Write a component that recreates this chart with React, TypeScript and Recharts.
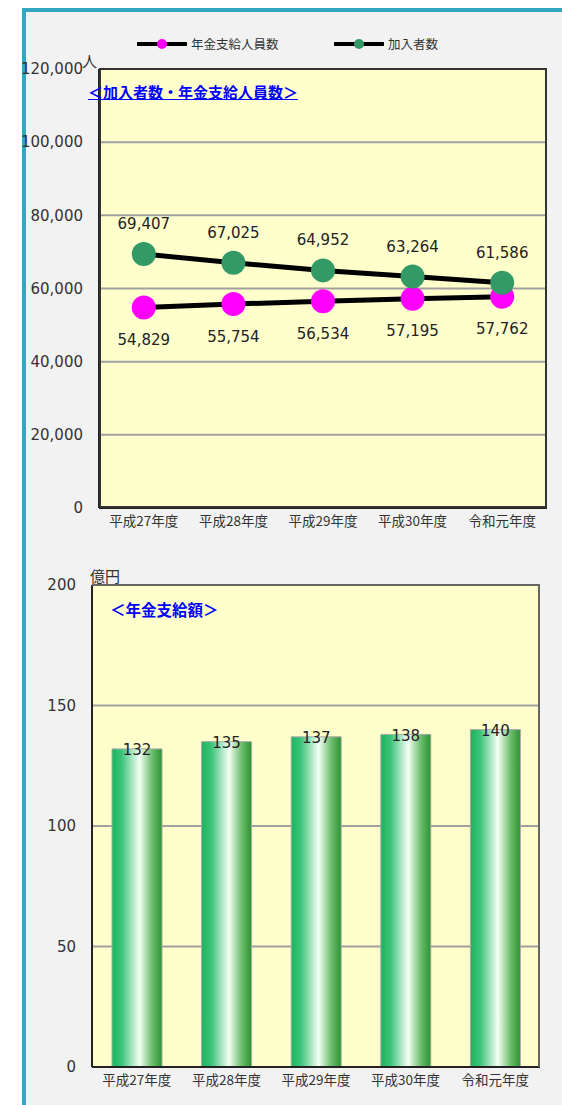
import React from 'react';
import { LineChart, Line, BarChart, Bar, XAxis, YAxis, CartesianGrid, LabelList } from 'recharts';

const years = ['平成27年度', '平成28年度', '平成29年度', '平成30年度', '令和元年度'];
const pensioners = [54829, 55754, 56534, 57195, 57762];
const members = [69407, 67025, 64952, 63264, 61586];
const payments = [132, 135, 137, 138, 140];
const peopleTicks = [0, 20000, 40000, 60000, 80000, 100000, 120000];
const amountTicks = [0, 50, 100, 150, 200];

const PINK = '#ff00ff';
const GREEN = '#339966';
const NUM_FONT = '"DejaVu Sans", sans-serif';
const JP_FONT = '"Noto Sans CJK JP", sans-serif';

const lineData = years.map((y, i) => ({ year: y, pensioners: pensioners[i], members: members[i] }));
const barData = years.map((y, i) => ({ year: y, amount: payments[i] }));

const fmt = (v: number) => String(v).replace(/\B(?=(\d{3})+(?!\d))/g, ',');

const numTick = { fill: '#333', fontSize: 15, fontFamily: NUM_FONT };
const catTick = { fill: '#333', fontSize: 13.5, fontFamily: JP_FONT };

const BarValue = (props: any) => {
  const { x, y, width, value } = props;
  return (
    <text x={x + width / 2} y={y + 2} textAnchor="middle" dominantBaseline="middle"
      fill="#222" fontSize={15} fontFamily={NUM_FONT}>
      {value}
    </text>
  );
};

const LegendItem = ({ color, label, left }: { color: string; label: string; left: number }) => (
  <div style={{ position: 'absolute', left, top: 36, display: 'flex', alignItems: 'center', height: 16 }}>
    <svg width={50} height={16}>
      <line x1={1} y1={8} x2={49} y2={8} stroke="#000" strokeWidth={4} strokeLinecap="round" />
      <circle cx={25} cy={8} r={5} fill={color} />
    </svg>
    <span style={{ marginLeft: 4, fontSize: 12.5, color: '#333', fontFamily: JP_FONT, lineHeight: '16px' }}>{label}</span>
  </div>
);

export default function App() {
  return (
    <div style={{ position: 'absolute', left: 0, top: 0, width: 562, height: 1105, background: '#fff', overflow: 'hidden' }}>
      <div style={{
        position: 'absolute', left: 22, top: 8, width: 540, height: 1097, boxSizing: 'border-box',
        borderLeft: '4px solid #33a6c2', borderTop: '4px solid #33a6c2', background: '#f2f2f2',
      }} />

      <LegendItem color={PINK} label="年金支給人員数" left={137} />
      <LegendItem color={GREEN} label="加入者数" left={334} />

      <div style={{ position: 'absolute', left: 0, top: 0 }}>
        <LineChart width={562} height={545} data={lineData} margin={{ top: 69, right: 15, left: 0, bottom: 7 }}>
          <CartesianGrid vertical={false} fill="#ffffcc" stroke="#a0a0a0" strokeWidth={2} />
          <XAxis dataKey="year" height={30} tickLine={false} padding={{ left: 44.8, right: 44.8 }}
            axisLine={{ stroke: '#222', strokeWidth: 2 }} tick={catTick} />
          <YAxis width={99} domain={[0, 120000]} ticks={peopleTicks} tickFormatter={fmt} tickLine={false}
            tickMargin={10} axisLine={{ stroke: '#222', strokeWidth: 2 }} tick={numTick} />
          <Line dataKey="pensioners" stroke="#000" strokeWidth={5} isAnimationActive={false}
            dot={{ r: 12, fill: PINK, stroke: 'none', strokeWidth: 0 }}>
            <LabelList dataKey="pensioners" position="bottom" offset={27} formatter={fmt}
              fill="#222" fontSize={15} fontFamily={NUM_FONT} />
          </Line>
          <Line dataKey="members" stroke="#000" strokeWidth={5} isAnimationActive={false}
            dot={{ r: 12, fill: GREEN, stroke: 'none', strokeWidth: 0 }}>
            <LabelList dataKey="members" position="top" offset={25} formatter={fmt}
              fill="#222" fontSize={15} fontFamily={NUM_FONT} />
          </Line>
        </LineChart>
      </div>
      <div style={{ position: 'absolute', left: 99, top: 68, width: 448, height: 440, boxSizing: 'border-box', border: '2px solid #333', pointerEvents: 'none' }} />
      <div style={{ position: 'absolute', left: 82, top: 50, fontSize: 15, color: '#333', fontFamily: JP_FONT }}>人</div>
      <div style={{
        position: 'absolute', left: 88, top: 81, fontSize: 15, fontWeight: 'bold', color: '#0000ff',
        fontFamily: JP_FONT, textDecoration: 'underline', lineHeight: '22px', whiteSpace: 'nowrap',
      }}>＜加入者数・年金支給人員数＞</div>

      <div style={{ position: 'absolute', left: 0, top: 560 }}>
        <BarChart width={562} height={545} data={barData} margin={{ top: 25, right: 22, left: 0, bottom: 8 }}>
          <defs>
            <linearGradient id="barGrad" x1="0" y1="0" x2="1" y2="0">
              <stop offset="0%" stopColor="#19b55c" />
              <stop offset="20%" stopColor="#3fc47c" />
              <stop offset="55%" stopColor="#f4fff4" />
              <stop offset="80%" stopColor="#6dbd6d" />
              <stop offset="100%" stopColor="#2a9430" />
            </linearGradient>
          </defs>
          <CartesianGrid vertical={false} fill="#ffffcc" stroke="#a0a0a0" strokeWidth={2} />
          <XAxis dataKey="year" height={30} tickLine={false} axisLine={{ stroke: '#222', strokeWidth: 2 }} tick={catTick} />
          <YAxis width={92} domain={[0, 200]} ticks={amountTicks} tickLine={false} tickMargin={10}
            axisLine={{ stroke: '#222', strokeWidth: 2 }} tick={numTick} />
          <Bar dataKey="amount" barSize={50} fill="url(#barGrad)" stroke="#aaa" strokeWidth={1} isAnimationActive={false}>
            <LabelList dataKey="amount" content={BarValue} />
          </Bar>
        </BarChart>
      </div>
      <div style={{ position: 'absolute', left: 92, top: 584, width: 448, height: 483, boxSizing: 'border-box', borderTop: '2px solid #666', borderRight: '2px solid #666', pointerEvents: 'none' }} />
      <div style={{ position: 'absolute', left: 90, top: 565, fontSize: 15, color: '#333', fontFamily: JP_FONT, lineHeight: '22px' }}>億円</div>
      <div style={{
        position: 'absolute', left: 110, top: 598, fontSize: 15.5, fontWeight: 'bold', color: '#0000ff',
        fontFamily: JP_FONT, lineHeight: '22px', whiteSpace: 'nowrap',
      }}>＜年金支給額＞</div>
    </div>
  );
}
